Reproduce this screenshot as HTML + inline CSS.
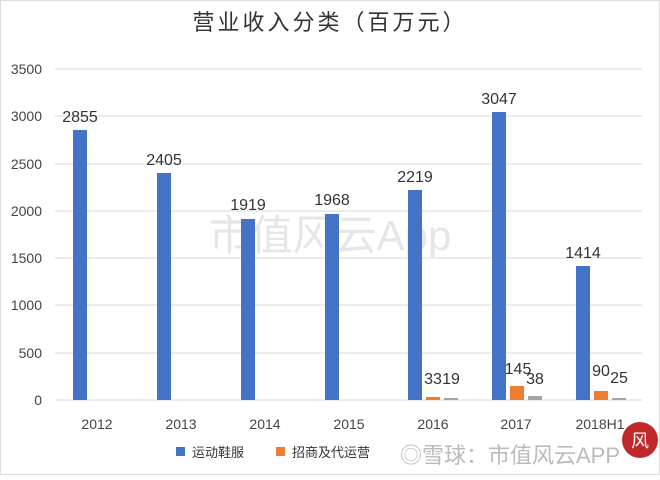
<!DOCTYPE html>
<html><head><meta charset="utf-8"><style>
body{margin:0;background:#fff;}
svg text{font-family:"Liberation Sans","Noto Sans CJK SC",sans-serif;}
</style></head><body>
<svg width="660" height="475" viewBox="0 0 660 475">
<rect x="0" y="0" width="660" height="475" fill="#fff"/>
<rect x="0.5" y="0.5" width="659" height="474" fill="none" stroke="#ddd"/>
<text x="330" y="30" text-anchor="middle" font-size="22" fill="#333" font-family="Noto Serif CJK SC,serif" letter-spacing="3">营业收入分类（百万元）</text>
<g stroke="#d9d9d9" stroke-width="1">
<line x1="55" x2="642" y1="69" y2="69"/><line x1="55" x2="642" y1="116" y2="116"/>
<line x1="55" x2="642" y1="164" y2="164"/><line x1="55" x2="642" y1="211" y2="211"/>
<line x1="55" x2="642" y1="258" y2="258"/><line x1="55" x2="642" y1="305" y2="305"/>
<line x1="55" x2="642" y1="353" y2="353"/><line x1="55" x2="642" y1="400" y2="400"/>
</g>
<g font-size="14" fill="#444" text-anchor="end">
<text x="42" y="74">3500</text><text x="42" y="121">3000</text><text x="42" y="169">2500</text>
<text x="42" y="216">2000</text><text x="42" y="263">1500</text><text x="42" y="310">1000</text>
<text x="42" y="358">500</text><text x="42" y="405">0</text>
</g>
<text x="330" y="250" text-anchor="middle" font-size="42" fill="#e6e6e6" font-family="Noto Serif CJK SC,serif">市值风云App</text>
<g fill="#4472c4">
<rect x="73" y="130" width="14" height="270"/>
<rect x="157" y="173" width="14" height="227"/>
<rect x="241" y="219" width="14" height="181"/>
<rect x="325" y="214" width="14" height="186"/>
<rect x="408" y="190" width="14" height="210"/>
<rect x="492" y="112" width="14" height="288"/>
<rect x="576" y="266" width="14" height="134"/>
</g>
<g fill="#ed7d31">
<rect x="426" y="397" width="14" height="3"/>
<rect x="510" y="386" width="14" height="14"/>
<rect x="594" y="391" width="14" height="9"/>
</g>
<g fill="#a5a5a5">
<rect x="444" y="398" width="14" height="2"/>
<rect x="528" y="396" width="14" height="4"/>
<rect x="612" y="398" width="14" height="2"/>
</g>
<g font-size="16" fill="#333" text-anchor="middle">
<text x="80" y="122">2855</text><text x="164" y="165">2405</text><text x="248" y="210">1919</text>
<text x="332" y="205">1968</text><text x="415" y="182">2219</text><text x="499" y="104">3047</text>
<text x="583" y="258">1414</text>
<text x="433" y="384">33</text><text x="451" y="384">19</text>
<text x="518" y="374">145</text><text x="535" y="384">38</text>
<text x="601" y="376">90</text><text x="619" y="383">25</text>
</g>
<g font-size="14" fill="#444" text-anchor="middle">
<text x="97" y="429">2012</text><text x="181" y="429">2013</text><text x="265" y="429">2014</text>
<text x="349" y="429">2015</text><text x="433" y="429">2016</text><text x="516" y="429">2017</text>
<text x="600" y="429">2018H1</text>
</g>
<rect x="176" y="447" width="9" height="9" fill="#4472c4"/>
<text x="192" y="457" font-size="13" fill="#333" font-family="Noto Serif CJK SC,serif">运动鞋服</text>
<rect x="276" y="447" width="9" height="9" fill="#ed7d31"/>
<text x="292" y="457" font-size="13" fill="#333" font-family="Noto Serif CJK SC,serif">招商及代运营</text>
<text x="400" y="463" font-size="22" fill="#bbb">◎雪球：市值风云APP</text>
<circle cx="640" cy="440" r="18" fill="#c0282a"/>
<text x="640" y="447" text-anchor="middle" font-size="18" fill="#fff">风</text>
</svg>
</body></html>
